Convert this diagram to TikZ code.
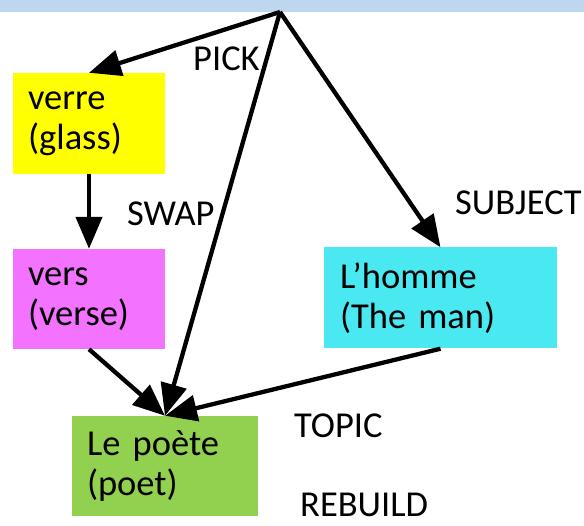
\documentclass[tikz,border=0pt]{standalone}
\usepackage{fontspec}
\setmainfont{Carlito}
\usetikzlibrary{arrows.meta}
\definecolor{bandblue}{HTML}{BDD7EE}
\definecolor{byellow}{HTML}{FFFF00}
\definecolor{bmagenta}{HTML}{F372FF}
\definecolor{bcyan}{HTML}{4AE9F1}
\definecolor{bgreen}{HTML}{92D050}
\tikzset{
  box/.style={rectangle, inner xsep=15pt, inner ysep=0pt, align=left,
    font=\fontsize{36.5}{40}\selectfont},
  lbl/.style={anchor=base west, inner sep=0pt, text depth=0pt, font=\fontsize{36.5}{40}\selectfont},
  conn/.style={line width=4.3pt, -{Triangle[length=32pt,width=26pt]}}
}
\begin{document}
\begin{tikzpicture}[x=1pt,y=-1pt]
\useasboundingbox (0,0) rectangle (584,526);
\fill[bandblue] (0,0) rectangle (584,12);
\coordinate (apex) at (280,12);
\node[box, fill=byellow, minimum width=152pt, minimum height=101pt, text width=122pt] (glass) at (89,123.5) {verre\\(glass)};
\node[box, fill=bmagenta, minimum width=152pt, minimum height=100pt, text width=122pt] (verse) at (89,299) {vers\\(verse)};
\node[box, fill=bcyan, minimum width=233pt, minimum height=101pt, text width=201pt] (man) at (440.5,298) {L’homme\\(The man)};
\node[box, fill=bgreen, minimum width=186pt, minimum height=100pt, text width=156pt] (poet) at (165,466) {Le poète\\(poet)};
\node[lbl] (pick) at (193,71) {PICK};
\node[lbl] (swap) at (127,226) {SWAP};
\node[lbl] (subject) at (455,215) {SUBJECT};
\node[lbl] (topic) at (294,438) {TOPIC};
\node[lbl] (rebuild) at (300,516) {REBUILD};
\draw[conn] (apex) -- (glass.north);
\draw[conn] (apex) -- (poet.north);
\draw[conn] (apex) -- (man.north);
\draw[conn] (glass.south) -- (verse.north);
\draw[conn] (verse.south) -- (poet.north);
\draw[conn] (man.south) -- (poet.north);
\end{tikzpicture}
\end{document}
